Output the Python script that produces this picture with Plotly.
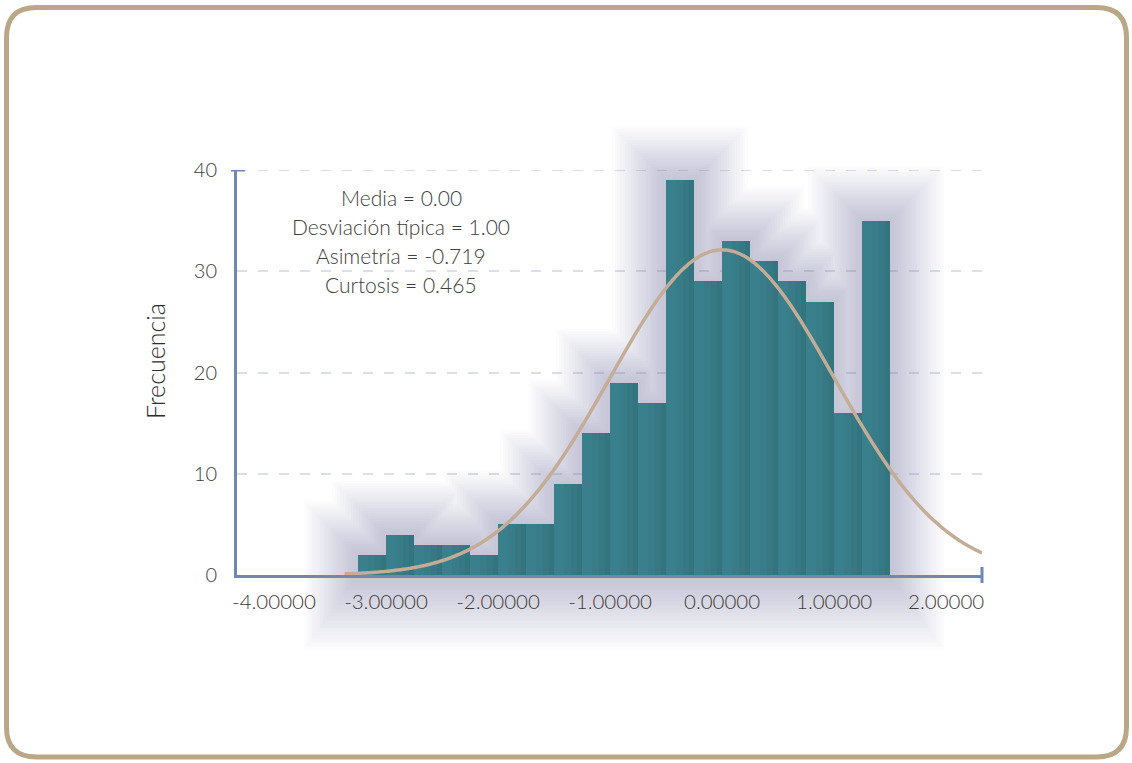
import numpy as np
import plotly.graph_objects as go

# Histogram data (bins of fixed width starting at BIN_START)
BIN_START = -3.25
BIN_WIDTH = 0.25
counts = [2, 4, 3, 3, 2, 5, 5, 9, 14, 19, 17, 39, 29, 33, 31, 29, 27, 16, 35]

# Axis ticks
x_tick_vals = [-4, -3, -2, -1, 0, 1, 2]
x_tick_text = ["-4.00000", "-3.00000", "-2.00000", "-1.00000", "0.00000", "1.00000", "2.00000"]
y_tick_vals = [0, 10, 20, 30, 40]

# Summary statistics shown on the chart
MEAN = 0.00
SD = 1.00
stats_lines = [
    "Media = 0.00",
    "Desviación típica = 1.00",
    "Asimetría = -0.719",
    "Curtosis = 0.465",
]

# Figure geometry
FIG_W, FIG_H = 1132, 763
ML, MR, MT, MB = 237, 150, 170, 188
PW, PH = FIG_W - ML - MR, FIG_H - MT - MB
X_RANGE = [-4.33, 2.32]
Y_RANGE = [0, 40]

BAR_COLOR = "#3a808c"
AXIS_COLOR = "#6f87b7"
CURVE_COLOR = "#c3ad96"
FRAME_COLOR = "#b9a785"
GRID_COLOR = "rgba(110,118,170,0.24)"
TEXT_COLOR = "#3c3c3c"
FONT = "Lato"

lefts = [BIN_START + i * BIN_WIDTH for i in range(len(counts))]
n_total = sum(counts)

px_per_x = PW / (X_RANGE[1] - X_RANGE[0])
px_per_y = PH / (Y_RANGE[1] - Y_RANGE[0])


def px_x(px):
    return (px - ML) / PW


def px_y(py):
    return 1 - (py - MT) / PH


def val_to_paper_y(v):
    return (v - Y_RANGE[0]) / (Y_RANGE[1] - Y_RANGE[0])


def skyline_path(spread_px):
    """Outline of the union of all bars grown by spread_px on every side."""
    sx = spread_px / px_per_x
    sy = spread_px / px_per_y
    rects = [(l - sx, l + BIN_WIDTH + sx, c + sy) for l, c in zip(lefts, counts)]
    edges = sorted({e for r in rects for e in r[:2]})
    bottom = val_to_paper_y(-1.4 * sy)
    heights = []
    for a, b in zip(edges[:-1], edges[1:]):
        mid = 0.5 * (a + b)
        heights.append(max(r[2] for r in rects if r[0] <= mid <= r[1]))
    parts = [f"M {edges[0]:.5f},{bottom:.5f}"]
    for i, h in enumerate(heights):
        hp = val_to_paper_y(h)
        parts.append(f"L {edges[i]:.5f},{hp:.5f}")
        parts.append(f"L {edges[i + 1]:.5f},{hp:.5f}")
    parts.append(f"L {edges[-1]:.5f},{bottom:.5f} Z")
    return " ".join(parts)


fig = go.Figure()
shapes = []

# Soft shadow behind the bars, stacked translucent outlines
for k in range(1, 21):
    shapes.append(dict(
        type="path", xref="x", yref="paper", layer="below",
        path=skyline_path(k * 2.7),
        line=dict(width=0), fillcolor="rgba(105,110,132,0.018)",
    ))

# Dashed guide at the top of the value axis
shapes.append(dict(type="line", xref="paper", yref="y", x0=0, x1=1,
                   y0=Y_RANGE[1], y1=Y_RANGE[1], layer="below",
                   line=dict(color=GRID_COLOR, width=2, dash="10px,11px")))

# Bars: base colour plus darker overlays towards the right edge of each bar
fig.add_trace(go.Bar(
    x=lefts, y=counts, width=BIN_WIDTH, offset=0,
    marker=dict(color=BAR_COLOR, line=dict(width=0)),
    showlegend=False, hoverinfo="skip",
))
for frac in (0.35, 0.6, 0.82):
    fig.add_trace(go.Bar(
        x=lefts, y=counts, width=BIN_WIDTH * (1 - frac), offset=BIN_WIDTH * frac,
        marker=dict(color="rgba(20,55,65,0.05)", line=dict(width=0)),
        showlegend=False, hoverinfo="skip",
    ))

# Fitted normal curve scaled to the histogram
cx = np.linspace(-3.37, X_RANGE[1], 300)
cy = n_total * BIN_WIDTH / (SD * np.sqrt(2 * np.pi)) * np.exp(-0.5 * ((cx - MEAN) / SD) ** 2)
fig.add_trace(go.Scatter(
    x=cx, y=cy, mode="lines",
    line=dict(color=CURVE_COLOR, width=3.5, shape="spline"),
    showlegend=False, hoverinfo="skip",
))

# Rounded outer frame
x0f, y0f, x1f, y1f, r = 6.5, 7.5, 1126.5, 757.0, 30
pts = [
    ("M", [(x0f + r, y0f)]), ("L", [(x1f - r, y0f)]),
    ("Q", [(x1f, y0f), (x1f, y0f + r)]), ("L", [(x1f, y1f - r)]),
    ("Q", [(x1f, y1f), (x1f - r, y1f)]), ("L", [(x0f + r, y1f)]),
    ("Q", [(x0f, y1f), (x0f, y1f - r)]), ("L", [(x0f, y0f + r)]),
    ("Q", [(x0f, y0f), (x0f + r, y0f)]),
]
path = " ".join(cmd + " " + " ".join(f"{px_x(a):.5f},{px_y(b):.5f}" for a, b in p) for cmd, p in pts) + " Z"
shapes.append(dict(type="path", xref="paper", yref="paper", path=path,
                   line=dict(color=FRAME_COLOR, width=5), layer="above"))

# End caps on the axes
shapes.append(dict(type="line", xref="paper", yref="y", x0=px_x(231), x1=px_x(245),
                   y0=Y_RANGE[1], y1=Y_RANGE[1], line=dict(color=AXIS_COLOR, width=3)))
shapes.append(dict(type="line", xref="paper", yref="paper", x0=1, x1=1,
                   y0=-8 / PH, y1=8 / PH, line=dict(color=AXIS_COLOR, width=3)))

annotations = []
for i, line in enumerate(stats_lines):
    annotations.append(dict(
        text=line, xref="paper", yref="paper", x=px_x(401), y=px_y(197 + i * 29),
        showarrow=False, xanchor="center", yanchor="middle",
        font=dict(family=FONT, size=21, color="#404040", weight=300),
    ))
annotations.append(dict(
    text="Frecuencia", xref="paper", yref="paper", x=px_x(155), y=px_y(361),
    showarrow=False, textangle=-90, xanchor="center", yanchor="middle",
    font=dict(family=FONT, size=25, color="#2e2e2e", weight=300),
))

fig.update_layout(
    width=FIG_W, height=FIG_H,
    margin=dict(l=ML, r=MR, t=MT, b=MB, pad=0),
    paper_bgcolor="white", plot_bgcolor="rgba(0,0,0,0)",
    barmode="overlay", bargap=0,
    shapes=shapes, annotations=annotations,
    xaxis=dict(
        range=X_RANGE, tickvals=x_tick_vals, ticktext=x_tick_text,
        showgrid=False, zeroline=False, showline=True,
        linecolor=AXIS_COLOR, linewidth=3, ticks="", ticklabelstandoff=6,
        tickfont=dict(family=FONT, size=20.5, color=TEXT_COLOR, weight=300),
    ),
    yaxis=dict(
        range=Y_RANGE, tickvals=y_tick_vals,
        showgrid=True, gridcolor=GRID_COLOR, gridwidth=2, griddash="10px,11px",
        zeroline=False, showline=True, linecolor=AXIS_COLOR, linewidth=3,
        ticks="", ticklabelstandoff=13,
        tickfont=dict(family=FONT, size=20, color=TEXT_COLOR, weight=300),
    ),
)

fig.write_html("out.html")
